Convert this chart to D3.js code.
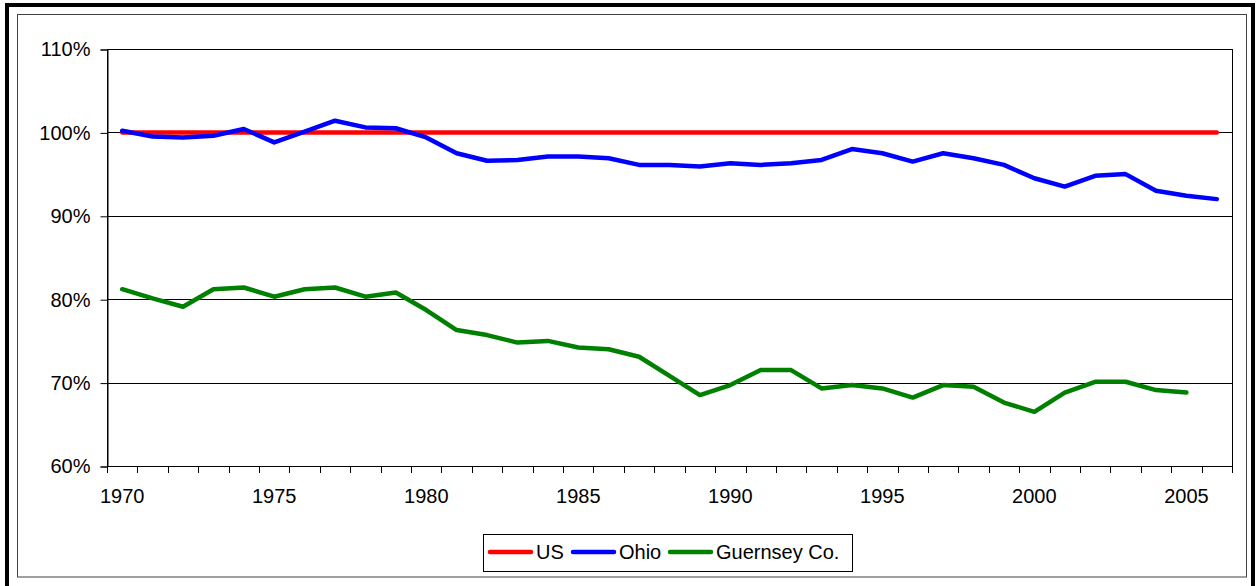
<!DOCTYPE html>
<html>
<head>
<meta charset="utf-8">
<script src="https://cdn.jsdelivr.net/npm/d3@7/dist/d3.min.js"></script>
<style>
  html, body { margin: 0; padding: 0; background: #fff; }
  svg { display: block; font-family: "Liberation Sans", Arial, sans-serif; }
</style>
</head>
<body>
<svg id="chart" width="1257" height="586"></svg>
<script>
// ---- data ----
const years = d3.range(1970, 2007);
const usValues = years.map(() => 100);
const ohioValues = [100.2, 99.5, 99.4, 99.6, 100.4, 98.8, 100.1, 101.4, 100.6, 100.5,
                    99.4, 97.5, 96.6, 96.7, 97.1, 97.1, 96.9, 96.1, 96.1, 95.9,
                    96.3, 96.1, 96.3, 96.7, 98.0, 97.5, 96.5, 97.5, 96.9, 96.1,
                    94.5, 93.5, 94.8, 95.0, 93.0, 92.4, 92.0];
const guernseyValues = [81.2, 80.1, 79.1, 81.2, 81.4, 80.3, 81.2, 81.4, 80.3, 80.8,
                        78.7, 76.3, 75.7, 74.8, 75.0, 74.2, 74.0, 73.1, 70.8, 68.5,
                        69.7, 71.5, 71.5, 69.3, 69.7, 69.3, 68.2, 69.7, 69.5, 67.6,
                        66.5, 68.8, 70.1, 70.1, 69.1, 68.8];
const seriesNames = ["US", "Ohio", "Guernsey Co."];
const seriesColors = ["#ff0000", "#0000ff", "#008000"];
const yTicks = [60, 70, 80, 90, 100, 110];
const xLabelYears = [1970, 1975, 1980, 1985, 1990, 1995, 2000, 2005];

const series = [usValues, ohioValues, guernseyValues].map((vals, i) => ({
  name: seriesNames[i], color: seriesColors[i],
  points: vals.map((v, j) => ({ year: years[j], value: v }))
}));

const FONT = "'Liberation Sans', Arial, sans-serif";
const FS = "20px";

const svg = d3.select("#chart");
const W = 1257, H = 586;
svg.append("rect").attr("width", W).attr("height", H).attr("fill", "#fff");

// outer thick frame
svg.append("rect").attr("x", 5).attr("y", 3).attr("width", 4).attr("height", H - 3).attr("fill", "#000");
svg.append("rect").attr("x", 5).attr("y", 3).attr("width", 1250).attr("height", 4).attr("fill", "#000");
svg.append("rect").attr("x", 1251).attr("y", 3).attr("width", 4).attr("height", H - 3).attr("fill", "#000");
// inner thin frame
svg.append("rect").attr("x", 17.5).attr("y", 14.5).attr("width", 1229).attr("height", 562.5)
  .attr("fill", "none").attr("stroke", "#404040").attr("stroke-width", 1);

const plot = { left: 107, right: 1232, top: 49, bottom: 466 };
const x = d3.scaleBand().domain(years).range([plot.left, plot.right]).paddingInner(0).paddingOuter(0);
const y = d3.scaleLinear().domain([60, 110]).range([plot.bottom, plot.top]);
const cx = d => x(d) + x.bandwidth() / 2;

// gridlines
svg.append("g").selectAll("line").data(yTicks.filter(t => t > 60 && t < 110)).join("line")
  .attr("x1", plot.left).attr("x2", plot.right)
  .attr("y1", d => Math.round(y(d)) + 0.5).attr("y2", d => Math.round(y(d)) + 0.5)
  .attr("stroke", "#000").attr("stroke-width", 1);

// plot border
svg.append("rect").attr("x", plot.left + 0.5).attr("y", plot.top + 0.5)
  .attr("width", plot.right - plot.left).attr("height", plot.bottom - plot.top)
  .attr("fill", "none").attr("stroke", "#000").attr("stroke-width", 1);

// y axis
const yAxis = svg.append("g").attr("transform", `translate(${plot.left + 0.5},0.5)`)
  .call(d3.axisLeft(y).tickValues(yTicks).tickFormat(d => d + "%").tickSize(7).tickPadding(10));
yAxis.select(".domain").attr("stroke", "#000");
yAxis.selectAll(".tick line").attr("stroke", "#000");
yAxis.selectAll("text").attr("font-size", FS).attr("fill", "#000").attr("font-family", FONT);

// x axis: boundary ticks between categories
const boundaries = years.map(yr => x(yr)).concat([x(years[years.length - 1]) + x.step()]);
svg.append("g").selectAll("line").data(boundaries).join("line")
  .attr("x1", d => Math.round(d) + 0.5).attr("x2", d => Math.round(d) + 0.5)
  .attr("y1", plot.bottom).attr("y2", plot.bottom + 7)
  .attr("stroke", "#000");
svg.append("line").attr("x1", plot.left).attr("x2", plot.right + 1)
  .attr("y1", plot.bottom + 0.5).attr("y2", plot.bottom + 0.5).attr("stroke", "#000");

const xAxis = svg.append("g").attr("transform", `translate(0,${plot.bottom})`)
  .call(d3.axisBottom(x).tickValues(xLabelYears).tickSize(0).tickPadding(23));
xAxis.select(".domain").remove();
xAxis.selectAll("text").attr("font-size", FS).attr("fill", "#000").attr("font-family", FONT);

// lines
const line = d3.line().x(d => cx(d.year)).y(d => y(d.value));
svg.append("g").selectAll("path").data(series).join("path")
  .attr("d", d => line(d.points))
  .attr("fill", "none").attr("stroke", d => d.color)
  .attr("stroke-width", 4.5).attr("stroke-linejoin", "round").attr("stroke-linecap", "round");

// legend
const lg = svg.append("g");
lg.append("rect").attr("x", 483.5).attr("y", 534.5).attr("width", 369).attr("height", 37)
  .attr("fill", "#fff").attr("stroke", "#000").attr("stroke-width", 1);
const legendX = [490, 573, 670];
series.forEach((s, i) => {
  lg.append("line").attr("x1", legendX[i]).attr("x2", legendX[i] + 41)
    .attr("y1", 552).attr("y2", 552).attr("stroke", s.color).attr("stroke-width", 4.5)
    .attr("stroke-linecap", "round");
  lg.append("text").attr("x", legendX[i] + 46).attr("y", 559)
    .attr("font-size", FS).attr("fill", "#000").attr("font-family", FONT).text(s.name);
});
</script>
</body>
</html>
